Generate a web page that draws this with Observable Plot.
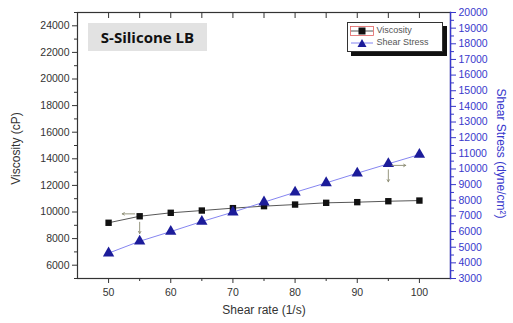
<!DOCTYPE html>
<html><head><meta charset="utf-8">
<script src="https://cdn.jsdelivr.net/npm/d3@7"></script>
<script src="https://cdn.jsdelivr.net/npm/@observablehq/plot@0.6"></script>
<style>
body{margin:0;background:#fff;font-family:"Liberation Sans",Arial,sans-serif;}
#wrap{position:relative;width:513px;height:323px;}
#title{position:absolute;left:88px;top:23px;width:119px;height:28px;background:#e2e2e2;font-family:"Open Sans","Noto Sans",sans-serif;font-weight:700;font-size:15px;line-height:28px;text-align:center;color:#111;}
#legend{position:absolute;left:347px;top:22px;width:94px;height:28px;background:#fff;border:1px solid #333;box-shadow:4px 4px 0 #111;font-size:9px;color:#555;}
#legend .row{position:absolute;left:2px;height:12px;line-height:12px;white-space:nowrap;}
#legend svg{vertical-align:middle;}
</style></head>
<body><div id="wrap"></div>
<script>
const shearRate = [50, 55, 60, 65, 70, 75, 80, 85, 90, 95, 100];
const viscosity = [9190, 9680, 9940, 10110, 10290, 10440, 10560, 10690, 10740, 10810, 10860];
const shearStress = [4620, 5380, 6000, 6640, 7240, 7880, 8510, 9110, 9730, 10330, 10920];
const xTicks = [50, 60, 70, 80, 90, 100];
const leftTicks = [6000, 8000, 10000, 12000, 14000, 16000, 18000, 20000, 22000, 24000];
const rightTicks = [3000,4000,5000,6000,7000,8000,9000,10000,11000,12000,13000,14000,15000,16000,17000,18000,19000,20000];
const seriesNames = ["Viscosity", "Shear Stress"];

const leftDomain = [5000, 25000], rightDomain = [3000, 20000];
const toLeft = s => leftDomain[0] + (s - rightDomain[0]) * (leftDomain[1]-leftDomain[0]) / (rightDomain[1]-rightDomain[0]);
const fromLeft = v => rightDomain[0] + (v - leftDomain[0]) * (rightDomain[1]-rightDomain[0]) / (leftDomain[1]-leftDomain[0]);

const blue = "#3838cc";
const visc = shearRate.map((x, i) => ({x, y: viscosity[i]}));
const stress = shearRate.map((x, i) => ({x, y: toLeft(shearStress[i])}));

// annotation arrows anchored on data points (55 for viscosity, 95 for shear stress)
const i55 = shearRate.indexOf(55), i95 = shearRate.indexOf(95);
const arrows = [
  {x1: 54.2, y1: viscosity[i55] + 180, x2: 52.2, y2: viscosity[i55] + 180},
  {x1: 55, y1: viscosity[i55] - 450, x2: 55, y2: viscosity[i55] - 1300},
  {x1: 95, y1: toLeft(shearStress[i95]) - 450, x2: 95, y2: toLeft(shearStress[i95]) - 1350},
  {x1: 95.6, y1: toLeft(shearStress[i95]) - 120, x2: 97.8, y2: toLeft(shearStress[i95]) - 120}
];

const minorLeft = d3.range(5000, 25001, 1000).filter(v => !leftTicks.includes(v));
const minorRight = d3.range(3500, 20000, 1000).map(toLeft);
const minorX = d3.range(55, 101, 10);

const plot = Plot.plot({
  width: 513, height: 323,
  marginLeft: 77, marginRight: 63, marginTop: 12, marginBottom: 45,
  style: {fontFamily: "'Liberation Sans', Arial, sans-serif", fontSize: "10.5px", color: "#333", background: "transparent"},
  x: {domain: [45, 105]},
  y: {domain: leftDomain},
  marks: [
    Plot.axisX({ticks: xTicks, tickSize: 5, tickPadding: 5, tickFormat: d => String(d), label: null, stroke: "#333"}),
    Plot.axisX({ticks: minorX, tickSize: 3, tickFormat: () => "", label: null, stroke: "#333"}),
    Plot.axisX({anchor: "top", ticks: d3.range(50, 101, 5), tickSize: -5, tickFormat: () => "", label: null, stroke: "#333"}),
    Plot.axisY({ticks: leftTicks, tickSize: 5, tickPadding: 3, tickFormat: d => String(d), label: null, stroke: "#333"}),
    Plot.axisY({ticks: minorLeft, tickSize: 3, tickFormat: () => "", label: null, stroke: "#333"}),
    Plot.axisY({anchor: "right", ticks: rightTicks.map(toLeft), tickSize: 5, tickPadding: 3,
      tickFormat: d => String(Math.round(fromLeft(d))), label: null, stroke: blue, fill: blue}),
    Plot.axisY({anchor: "right", ticks: minorRight, tickSize: 3, tickFormat: () => "", label: null, stroke: blue}),
    Plot.frame({stroke: "#333", strokeWidth: 1.2}),
    Plot.frame({anchor: "right", stroke: blue, strokeWidth: 1.4}),
    Plot.line(visc, {x: "x", y: "y", stroke: "#444", strokeWidth: 0.9}),
    Plot.line(stress, {x: "x", y: "y", stroke: "#7777ee", strokeWidth: 0.9}),
    Plot.dot(visc, {x: "x", y: "y", symbol: "square", r: 3.6, fill: "#111", stroke: "none"}),
    Plot.dot(stress, {x: "x", y: "y", symbol: "triangle", r: 4.2, fill: "#1c1c9a", stroke: "none"}),
    Plot.arrow(arrows, {x1: "x1", y1: "y1", x2: "x2", y2: "y2", stroke: "#8a8a70", strokeWidth: 0.9, headLength: 4}),
    Plot.text(["Viscosity (cP)"], {frameAnchor: "left", textAnchor: "middle", rotate: -90, dx: -61, dy: 3, fontSize: 12, fill: "#333"}),
    Plot.text(["Shear Stress (dyne/cm²)"], {frameAnchor: "right", textAnchor: "middle", rotate: 90, dx: 50, dy: 8, fontSize: 12, fill: blue}),
    Plot.text(["Shear rate (1/s)"], {frameAnchor: "bottom", dy: 35, fontSize: 12, fill: "#333"})
  ]
});

const wrap = document.getElementById("wrap");
wrap.appendChild(plot);
plot.style.position = "absolute"; plot.style.left = "0"; plot.style.top = "0";

const title = document.createElement("div");
title.id = "title"; title.textContent = "S-Silicone LB";
wrap.appendChild(title);

const legend = document.createElement("div");
legend.id = "legend";
legend.innerHTML =
  `<div class="row" style="top:1px"><svg width="24" height="10"><rect x="0.5" y="0.5" width="23" height="9" fill="none" stroke="#e06060" stroke-width="0.8"/><line x1="1" y1="5" x2="23" y2="5" stroke="#444" stroke-width="0.9"/><rect x="8.5" y="1.5" width="7" height="7" fill="#111"/></svg> ${seriesNames[0]}</div>` +
  `<div class="row" style="top:13px"><svg width="24" height="10"><line x1="1" y1="5" x2="23" y2="5" stroke="#7777ee" stroke-width="0.9"/><path d="M12,1 L16.5,9 L7.5,9 Z" fill="#1c1c9a"/></svg> ${seriesNames[1]}</div>`;
wrap.appendChild(legend);
</script></body></html>
